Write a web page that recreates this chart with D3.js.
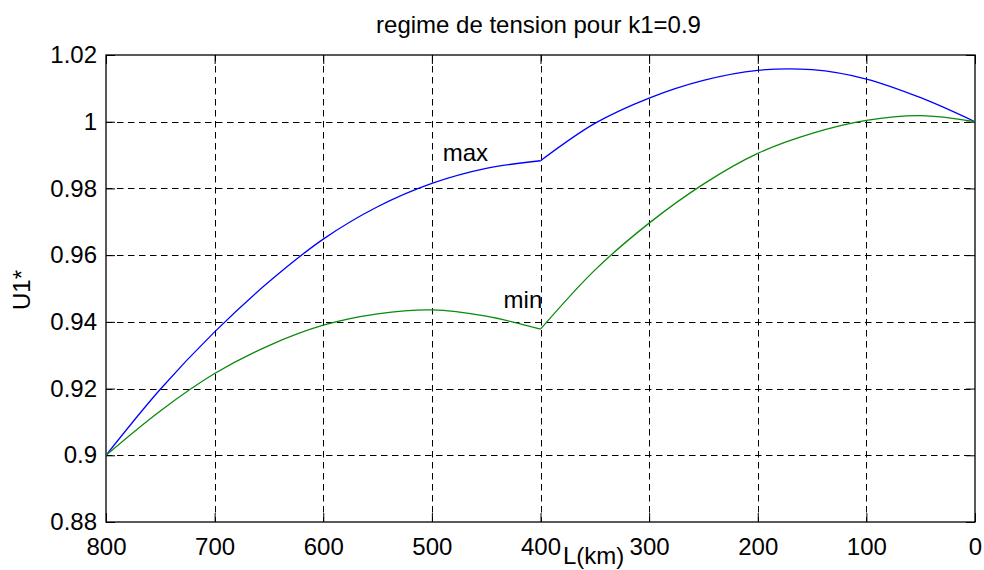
<!DOCTYPE html>
<html>
<head>
<meta charset="utf-8">
<script src="https://cdn.jsdelivr.net/npm/d3@7"></script>
<style>
  html, body { margin: 0; padding: 0; background: #fff; }
  svg { display: block; }
  text { font-family: "Liberation Sans", Arial, sans-serif; fill: #000; }
</style>
</head>
<body>
<svg id="chart" width="984" height="570"></svg>
<script>
// Line length L (km) and per-unit voltage U1* for k1 = 0.9
const lengthKm = [800, 750, 700, 650, 600, 550, 500, 450, 400, 350, 300, 250, 200, 150, 100, 50, 0];
const uMax = [0.900, 0.9198, 0.9370, 0.9520, 0.9648, 0.9745, 0.9815, 0.9860, 0.9883, 0.9995, 1.0071, 1.0124, 1.0154, 1.0156, 1.0128, 1.0072, 1.000];
const uMin = [0.900, 0.9133, 0.9245, 0.9329, 0.9390, 0.9424, 0.9436, 0.9417, 0.9378, 0.9555, 0.9696, 0.9813, 0.9905, 0.9965, 1.0004, 1.0018, 1.000];

// Breakpoint between the two line sections
const breakKm = 400;

const xTicks = [800, 700, 600, 500, 400, 300, 200, 100, 0];
const yTicks = [0.88, 0.9, 0.92, 0.94, 0.96, 0.98, 1, 1.02];
const yTickLabels = ["0.88", "0.9", "0.92", "0.94", "0.96", "0.98", "1", "1.02"];

const titleText = "regime de tension pour k1=0.9";
const xLabel = "L(km)";
const yLabel = "U1*";

// Curve labels placed in data coordinates (left edge, baseline)
const curveLabels = [
  { text: "max", L: 490, u: 0.9882 },
  { text: "min", L: 434, u: 0.9442 }
];

const svg = d3.select("#chart");
const plot = { left: 106, right: 975, top: 55, bottom: 522 };

const x = d3.scaleLinear().domain([800, 0]).range([plot.left, plot.right]);
const y = d3.scaleLinear().domain([0.88, 1.02]).range([plot.bottom, plot.top]);

const fontSize = 24;
const tickLen = 9;

// Dashed grid
const grid = svg.append("g").attr("stroke", "#000").attr("stroke-width", 1)
  .attr("stroke-dasharray", "6.5,4.5").attr("fill", "none");
grid.selectAll("line.gx").data(xTicks.filter(t => t !== 800 && t !== 0)).join("line")
  .attr("x1", d => Math.round(x(d)) + 0.5).attr("x2", d => Math.round(x(d)) + 0.5)
  .attr("y1", plot.top).attr("y2", plot.bottom);
grid.selectAll("line.gy").data(yTicks.filter(t => t !== 0.88 && t !== 1.02)).join("line")
  .attr("y1", d => Math.round(y(d)) + 0.5).attr("y2", d => Math.round(y(d)) + 0.5)
  .attr("x1", plot.left).attr("x2", plot.right);

// Axes with inward ticks on all four sides
function styleAxis(g) {
  g.select(".domain").remove();
  g.selectAll(".tick line").attr("stroke", "#000").attr("stroke-width", 1);
  g.selectAll(".tick text").attr("font-size", fontSize)
    .attr("font-family", "'Liberation Sans', Arial, sans-serif").attr("fill", "#000");
}

svg.append("g").attr("transform", `translate(0,${plot.bottom})`)
  .call(d3.axisBottom(x).tickValues(xTicks).tickFormat(d3.format("d"))
    .tickSizeInner(-tickLen).tickSizeOuter(0).tickPadding(16))
  .call(styleAxis);

svg.append("g").attr("transform", `translate(0,${plot.top})`)
  .call(d3.axisTop(x).tickValues(xTicks).tickFormat("")
    .tickSizeInner(-tickLen).tickSizeOuter(0))
  .call(styleAxis);

svg.append("g").attr("transform", `translate(${plot.left},0)`)
  .call(d3.axisLeft(y).tickValues(yTicks).tickFormat((d, i) => yTickLabels[i])
    .tickSizeInner(-tickLen).tickSizeOuter(0).tickPadding(9))
  .call(styleAxis);

svg.append("g").attr("transform", `translate(${plot.right},0)`)
  .call(d3.axisRight(y).tickValues(yTicks).tickFormat("")
    .tickSizeInner(-tickLen).tickSizeOuter(0))
  .call(styleAxis);

// Plot box
svg.append("rect")
  .attr("x", plot.left).attr("y", plot.top)
  .attr("width", plot.right - plot.left).attr("height", plot.bottom - plot.top)
  .attr("fill", "none").attr("stroke", "#000").attr("stroke-width", 1.3);

// Voltage curves, drawn as two smooth sections meeting at the breakpoint
const line = d3.line()
  .x(d => x(d.L)).y(d => y(d.u))
  .curve(d3.curveCatmullRom.alpha(0.5));

function sections(values) {
  const pts = lengthKm.map((L, i) => ({ L, u: values[i] }));
  return [pts.filter(p => p.L >= breakKm), pts.filter(p => p.L <= breakKm)];
}

const series = [
  { values: uMax, color: "#0000ff" },
  { values: uMin, color: "#0a8a0a" }
];

series.forEach(s => {
  svg.append("g").selectAll("path").data(sections(s.values)).join("path")
    .attr("d", line)
    .attr("fill", "none")
    .attr("stroke", s.color)
    .attr("stroke-width", 1.3)
    .attr("stroke-linejoin", "round");
});

// Curve labels
svg.selectAll("text.curve-label").data(curveLabels).join("text")
  .attr("class", "curve-label")
  .attr("x", d => x(d.L)).attr("y", d => y(d.u))
  .attr("font-size", fontSize)
  .text(d => d.text);

// Title and axis labels
svg.append("text")
  .attr("x", (plot.left + plot.right) / 2 - 2).attr("y", 33)
  .attr("text-anchor", "middle").attr("font-size", fontSize)
  .text(titleText);

svg.append("text")
  .attr("x", 563).attr("y", 564)
  .attr("font-size", fontSize)
  .text(xLabel);

svg.append("text")
  .attr("transform", "translate(30,290) rotate(-90)")
  .attr("text-anchor", "middle").attr("font-size", fontSize)
  .text(yLabel);
</script>
</body>
</html>
